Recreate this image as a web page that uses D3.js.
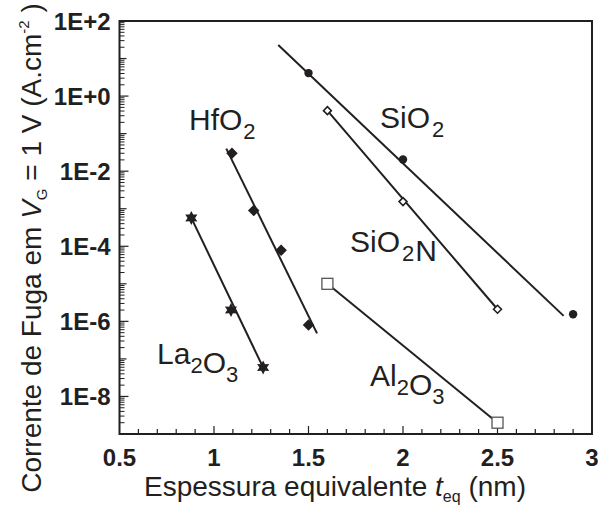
<!DOCTYPE html>
<html>
<head>
<meta charset="utf-8">
<script src="https://cdn.jsdelivr.net/npm/d3@7"></script>
<style>
  body { margin: 0; background: #fff; }
  text { font-family: "Liberation Sans", Arial, sans-serif; fill: #231f20; }
</style>
</head>
<body>
<div id="chart"></div>
<script>
// tick labels
var xTicks = [0.5, 1, 1.5, 2, 2.5, 3],
    yTicks = [1e2, 1e0, 1e-2, 1e-4, 1e-6, 1e-8],
    yTickLabels = ["1E+2", "1E+0", "1E-2", "1E-4", "1E-6", "1E-8"];

// measured points (x = thickness nm, y = current A/cm2)
var sio2X = [1.5, 2.0, 2.9],
    sio2Y = [4.1, 0.0205, 1.55e-6],
    sio2nX = [1.6, 2.0, 2.5],
    sio2nY = [0.41, 1.55e-3, 2.1e-6],
    hfo2X = [1.095, 1.21, 1.355, 1.5],
    hfo2Y = [0.03, 9e-4, 7.8e-5, 8e-7],
    la2o3X = [0.88, 1.09, 1.26],
    la2o3Y = [5.7e-4, 2e-6, 5.9e-8],
    al2o3X = [1.6, 2.5],
    al2o3Y = [1e-5, 2e-9];

// fitted lines (two end points each)
var sio2FitX = [1.34, 2.85], sio2FitY = [23, 1.4e-6],
    sio2nFitX = [1.6, 2.5], sio2nFitY = [0.41, 2.1e-6],
    hfo2FitX = [1.065, 1.545], hfo2FitY = [0.04, 4.8e-7],
    la2o3FitX = [0.88, 1.26], la2o3FitY = [5.7e-4, 5.9e-8],
    al2o3FitX = [1.6, 2.5], al2o3FitY = [1e-5, 2e-9];

var W = 598, H = 512,
    margin = { top: 21, right: 6, bottom: 78, left: 119.5 };

var svg = d3.select("#chart").append("svg")
    .attr("width", W)
    .attr("height", H);

var x = d3.scaleLinear().domain([0.5, 3]).range([margin.left, W - margin.right]);
var y = d3.scaleLog().domain([1e-9, 1e2]).range([H - margin.bottom, margin.top]);

var ink = "#231f20";

function zip(xs, ys) { return xs.map(function (d, i) { return [d, ys[i]]; }); }

// y minor ticks (log, 2..9 per decade) and decade ticks
var yMinor = [];
for (var e = -9; e < 2; e++) {
    for (var m = 2; m <= 9; m++) yMinor.push(m * Math.pow(10, e));
}
var yDecades = d3.range(-9, 3).map(function (e) { return Math.pow(10, e); });

svg.selectAll(".yminor").data(yMinor).enter().append("line")
    .attr("x1", x(0.5)).attr("x2", x(0.5) + 5)
    .attr("y1", function (d) { return y(d); }).attr("y2", function (d) { return y(d); })
    .attr("stroke", ink).attr("stroke-width", 1);

svg.selectAll(".ydec").data(yDecades).enter().append("line")
    .attr("x1", x(0.5)).attr("x2", function (d) { return x(0.5) + (yTicks.indexOf(d) >= 0 ? 9 : 7); })
    .attr("y1", function (d) { return y(d); }).attr("y2", function (d) { return y(d); })
    .attr("stroke", ink).attr("stroke-width", 1.2);

// x ticks
var xMinor = d3.range(6, 30).map(function (d) { return d / 10; });
svg.selectAll(".xminor").data(xMinor).enter().append("line")
    .attr("x1", function (d) { return x(d); }).attr("x2", function (d) { return x(d); })
    .attr("y1", y(1e-9)).attr("y2", function (d) { return y(1e-9) - (Math.round(d * 10) % 5 === 0 ? 8 : 5); })
    .attr("stroke", ink).attr("stroke-width", 1.2);

// frame
svg.append("rect")
    .attr("x", x(0.5)).attr("y", y(1e2))
    .attr("width", x(3) - x(0.5)).attr("height", y(1e-9) - y(1e2))
    .attr("fill", "none").attr("stroke", ink).attr("stroke-width", 2);

// tick labels
svg.selectAll(".ylab").data(yTicks).enter().append("text")
    .attr("x", x(0.5) - 9)
    .attr("y", function (d) { return y(d) + 9; })
    .attr("text-anchor", "end")
    .attr("font-size", 24)
    .attr("font-weight", "bold")
    .text(function (d, i) { return yTickLabels[i]; });

svg.selectAll(".xlab").data(xTicks).enter().append("text")
    .attr("x", function (d) { return x(d); })
    .attr("y", 466)
    .attr("text-anchor", "middle")
    .attr("font-size", 24)
    .attr("font-weight", "bold")
    .text(function (d) { return d; });

// axis titles
var xt = svg.append("text")
    .attr("x", 144).attr("y", 496)
    .attr("font-size", 28);
xt.append("tspan").text("Espessura equivalente ");
xt.append("tspan").attr("font-style", "italic").text("t");
xt.append("tspan").attr("font-size", 16).attr("dy", 6).text("eq");
xt.append("tspan").attr("dy", -6).text(" (nm)");

var yt = svg.append("text")
    .attr("transform", "translate(41,248) rotate(-90)")
    .attr("text-anchor", "middle")
    .attr("font-size", 28);
yt.append("tspan").text("Corrente de Fuga em ");
yt.append("tspan").attr("font-style", "italic").text("V");
yt.append("tspan").attr("font-size", 15).attr("dy", 6).text("G");
yt.append("tspan").attr("dy", -6).text(" = 1 V (A.cm");
yt.append("tspan").attr("font-size", 15).attr("dy", -12).text("-2");
yt.append("tspan").attr("dy", 12).text(" )");

// fitted lines
var line = d3.line().x(function (d) { return x(d[0]); }).y(function (d) { return y(d[1]); });
var fits = [
    zip(sio2FitX, sio2FitY), zip(sio2nFitX, sio2nFitY), zip(hfo2FitX, hfo2FitY),
    zip(la2o3FitX, la2o3FitY), zip(al2o3FitX, al2o3FitY)
];
svg.selectAll(".fit").data(fits).enter().append("path")
    .attr("d", line)
    .attr("fill", "none").attr("stroke", ink).attr("stroke-width", 2);

// markers
function star6(ro, ri) {
    var pts = d3.range(12).map(function (i) {
        var a = i * Math.PI / 6 - Math.PI / 2, r = i % 2 ? ri : ro;
        return [r * Math.cos(a), r * Math.sin(a)];
    });
    return "M" + pts.join("L") + "Z";
}

svg.selectAll(".sio2").data(zip(sio2X, sio2Y)).enter().append("circle")
    .attr("cx", function (d) { return x(d[0]); }).attr("cy", function (d) { return y(d[1]); })
    .attr("r", 4.2).attr("fill", ink);

svg.selectAll(".sio2n").data(zip(sio2nX, sio2nY)).enter().append("path")
    .attr("transform", function (d) { return "translate(" + x(d[0]) + "," + y(d[1]) + ")"; })
    .attr("d", d3.symbol(d3.symbolDiamond2, 40))
    .attr("fill", "#fff").attr("stroke", ink).attr("stroke-width", 1.6);

svg.selectAll(".hfo2").data(zip(hfo2X, hfo2Y)).enter().append("path")
    .attr("transform", function (d) { return "translate(" + x(d[0]) + "," + y(d[1]) + ")"; })
    .attr("d", d3.symbol(d3.symbolDiamond2, 85))
    .attr("fill", ink);

svg.selectAll(".la2o3").data(zip(la2o3X, la2o3Y)).enter().append("path")
    .attr("transform", function (d) { return "translate(" + x(d[0]) + "," + y(d[1]) + ")"; })
    .attr("d", star6(7, 3.8))
    .attr("fill", ink);

svg.selectAll(".al2o3").data(zip(al2o3X, al2o3Y)).enter().append("rect")
    .attr("x", function (d) { return x(d[0]) - 5.5; }).attr("y", function (d) { return y(d[1]) - 5.5; })
    .attr("width", 11).attr("height", 11)
    .attr("fill", "#fff").attr("stroke", "#555").attr("stroke-width", 1.3);

// series labels, subscripts shifted down
function label(px, py, parts) {
    var t = svg.append("text").attr("x", px).attr("y", py).attr("font-size", 30);
    parts.forEach(function (p) {
        if (p.sub) {
            t.append("tspan").attr("font-size", 22).attr("dy", 9).attr("dx", p.dx || 0).text(p.s);
            t.append("tspan").attr("font-size", 30).attr("dy", -9).text("");
        } else {
            t.append("tspan").attr("dx", p.dx || 0).text(p.s);
        }
    });
}

label(189, 130, [{ s: "HfO" }, { s: "2", sub: true, dx: 1 }]);
label(380, 128, [{ s: "SiO" }, { s: "2", sub: true, dx: 2 }]);
label(350, 252, [{ s: "SiO" }, { s: "2", sub: true, dx: 2 }, { s: "N", dx: 1 }]);
label(157, 364, [{ s: "La" }, { s: "2", sub: true }, { s: "O" }, { s: "3", sub: true }]);
label(370, 386, [{ s: "Al" }, { s: "2", sub: true }, { s: "O" }, { s: "3", sub: true }]);
</script>
</body>
</html>
